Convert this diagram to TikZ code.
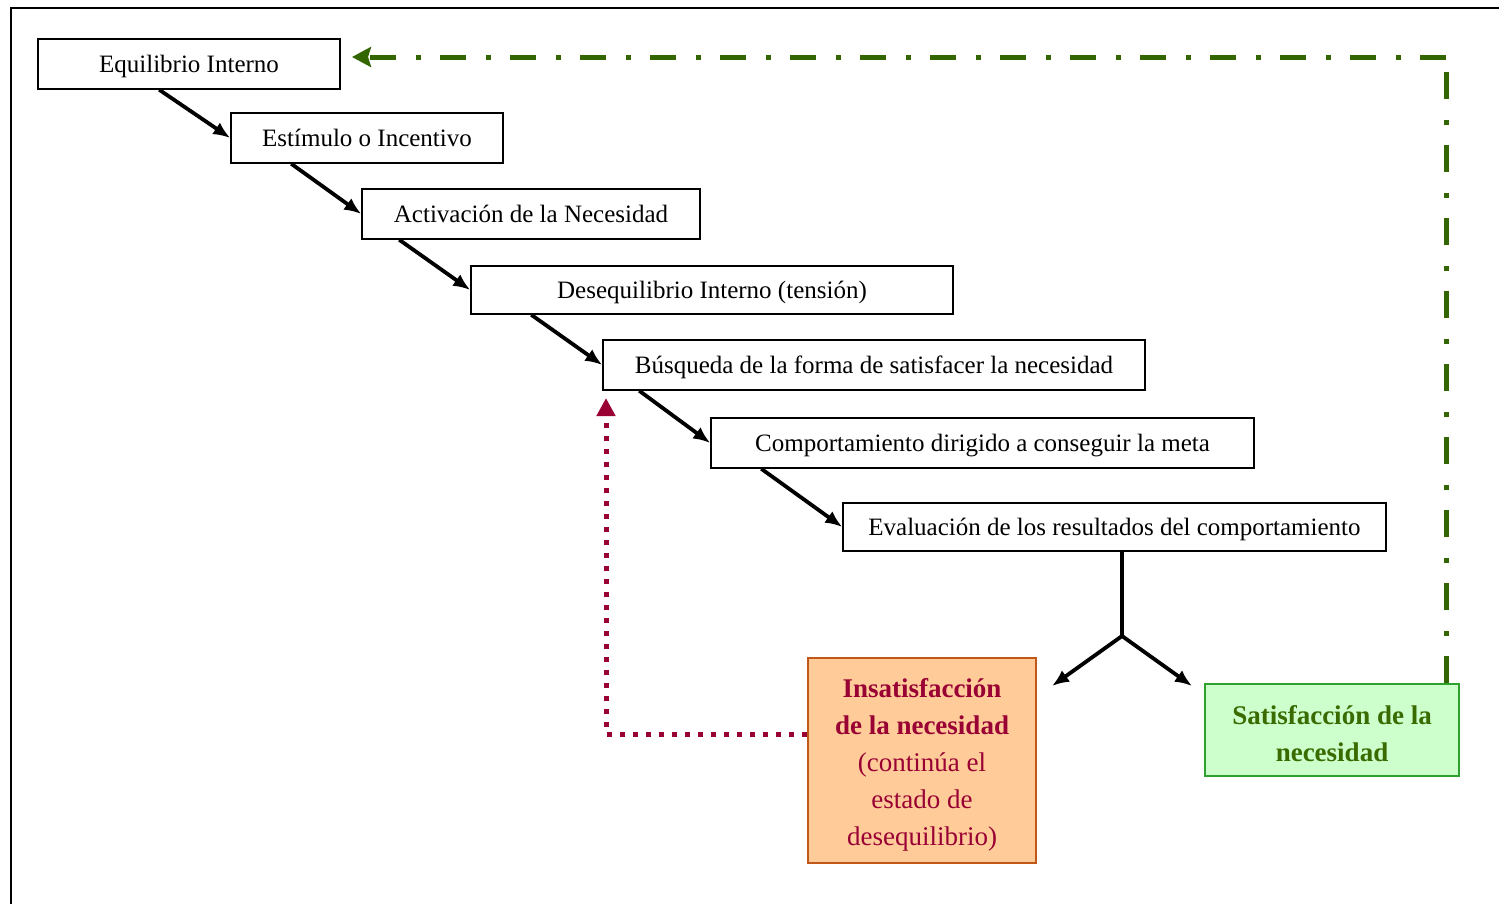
\documentclass[tikz,border=0pt]{standalone}
\usepackage{fontspec}
\setmainfont{Liberation Serif}
\usetikzlibrary{arrows.meta,calc}
\definecolor{insfill}{HTML}{FFCC99}
\definecolor{insdraw}{HTML}{C0581A}
\definecolor{instext}{HTML}{990033}
\definecolor{satfill}{HTML}{CCFFCC}
\definecolor{satdraw}{HTML}{2EA02E}
\definecolor{sattext}{HTML}{3A6B00}
\definecolor{loopgreen}{HTML}{336600}
\tikzset{
  stepbox/.style={draw=black, line width=1.5pt, fill=white, inner sep=0pt,
    text height=21pt, text depth=5pt, font=\fontsize{25}{30}\selectfont},
  flow/.style={line width=3.8pt, -{Latex[length=17pt,width=14pt]}},
  branch/.style={line width=3.8pt},
  backred/.style={draw=instext, line width=5pt, dash pattern=on 5pt off 8pt,
    -{Triangle[length=18pt,width=18pt]}},
  greenrise/.style={draw=loopgreen, line width=5pt,
    dash pattern=on 27pt off 20pt on 5pt off 21pt},
  greenback/.style={draw=loopgreen, line width=5pt,
    dash pattern=on 26pt off 19pt on 5pt off 20pt,
    -{Stealth[length=19pt,width=20pt,inset=3pt]}},
}
\newcommand{\topstrut}[1]{\rule{0pt}{#1}}
\begin{document}
\begin{tikzpicture}[x=1pt,y=-1pt]
\useasboundingbox (0,0) rectangle (1499,903);
\fill[white] (0,0) rectangle (1499,903);
\begin{scope}
\clip (0,0) rectangle (1499,903);
% outer frame (runs past the right and bottom edges)
\draw[line width=2pt] (11,920) -- (11,8) -- (1520,8);
\end{scope}

% chain of steps
\node[stepbox, minimum width=302pt, minimum height=50pt] (b1) at (189,64) {Equilibrio Interno};
\node[stepbox, minimum width=272pt, minimum height=50pt] (b2) at (367,138) {Estímulo o Incentivo};
\node[stepbox, minimum width=338pt, minimum height=50pt] (b3) at (531,214) {Activación de la Necesidad};
\node[stepbox, minimum width=482pt, minimum height=48pt] (b4) at (712,290) {Desequilibrio Interno (tensión)};
\node[stepbox, minimum width=542pt, minimum height=50pt] (b5) at (874,365) {Búsqueda de la forma de satisfacer la necesidad};
\node[stepbox, minimum width=543pt, minimum height=50pt] (b6) at (982.5,443) {Comportamiento dirigido a conseguir la meta};
\node[stepbox, minimum width=543pt, minimum height=48pt] (b7) at (1114.5,527) {Evaluación de los resultados del comportamiento};

% outcomes
\node[draw=insdraw, fill=insfill, line width=1.5pt, minimum width=228pt, minimum height=205pt,
  inner sep=0pt, text=instext, align=center, font=\fontsize{27}{37}\selectfont] (ins) at (922,760.5)
  {\topstrut{28pt}\textbf{Insatisfacción}\\\textbf{de la necesidad}\\(continúa el\\estado de\\desequilibrio)};
\node[draw=satdraw, fill=satfill, line width=1.5pt, minimum width=254pt, minimum height=92pt,
  inner sep=0pt, text=sattext, align=center, font=\fontsize{27}{37}\selectfont\bfseries] (sat) at (1332,730)
  {\topstrut{26pt}Satisfacción de la\\necesidad};

% step arrows
\draw[flow] ($(b1.south west)+(122,0)$) -- (b2.west);
\draw[flow] ($(b2.south west)+(61,0)$) -- (b3.west);
\draw[flow] ($(b3.south west)+(38,0)$) -- (b4.west);
\draw[flow] ($(b4.south west)+(61,0)$) -- (b5.west);
\draw[flow] ($(b5.south west)+(37,0)$) -- (b6.west);
\draw[flow] ($(b6.south west)+(51,0)$) -- (b7.west);

% fork after the evaluation
\coordinate (fork) at (1122,636);
\coordinate (toIns) at (1052,686);
\coordinate (toSat) at (1192,686);
\draw[branch] (b7.south -| fork) -- (fork);
\draw[flow] (fork) -- (toIns);
\draw[flow] (fork) -- (toSat);

% return loops
\coordinate (rc) at (606,734);
\coordinate (rt) at (606,398);
\draw[backred] (ins.west |- rc) -- (rc) -- (rt);
\coordinate (gc) at (1446,57);
\coordinate (gt) at (352,57);
\draw[greenrise] (sat.north -| gc) -- (gc);
\draw[greenback] (gc) -- (gt);
\end{tikzpicture}
\end{document}
